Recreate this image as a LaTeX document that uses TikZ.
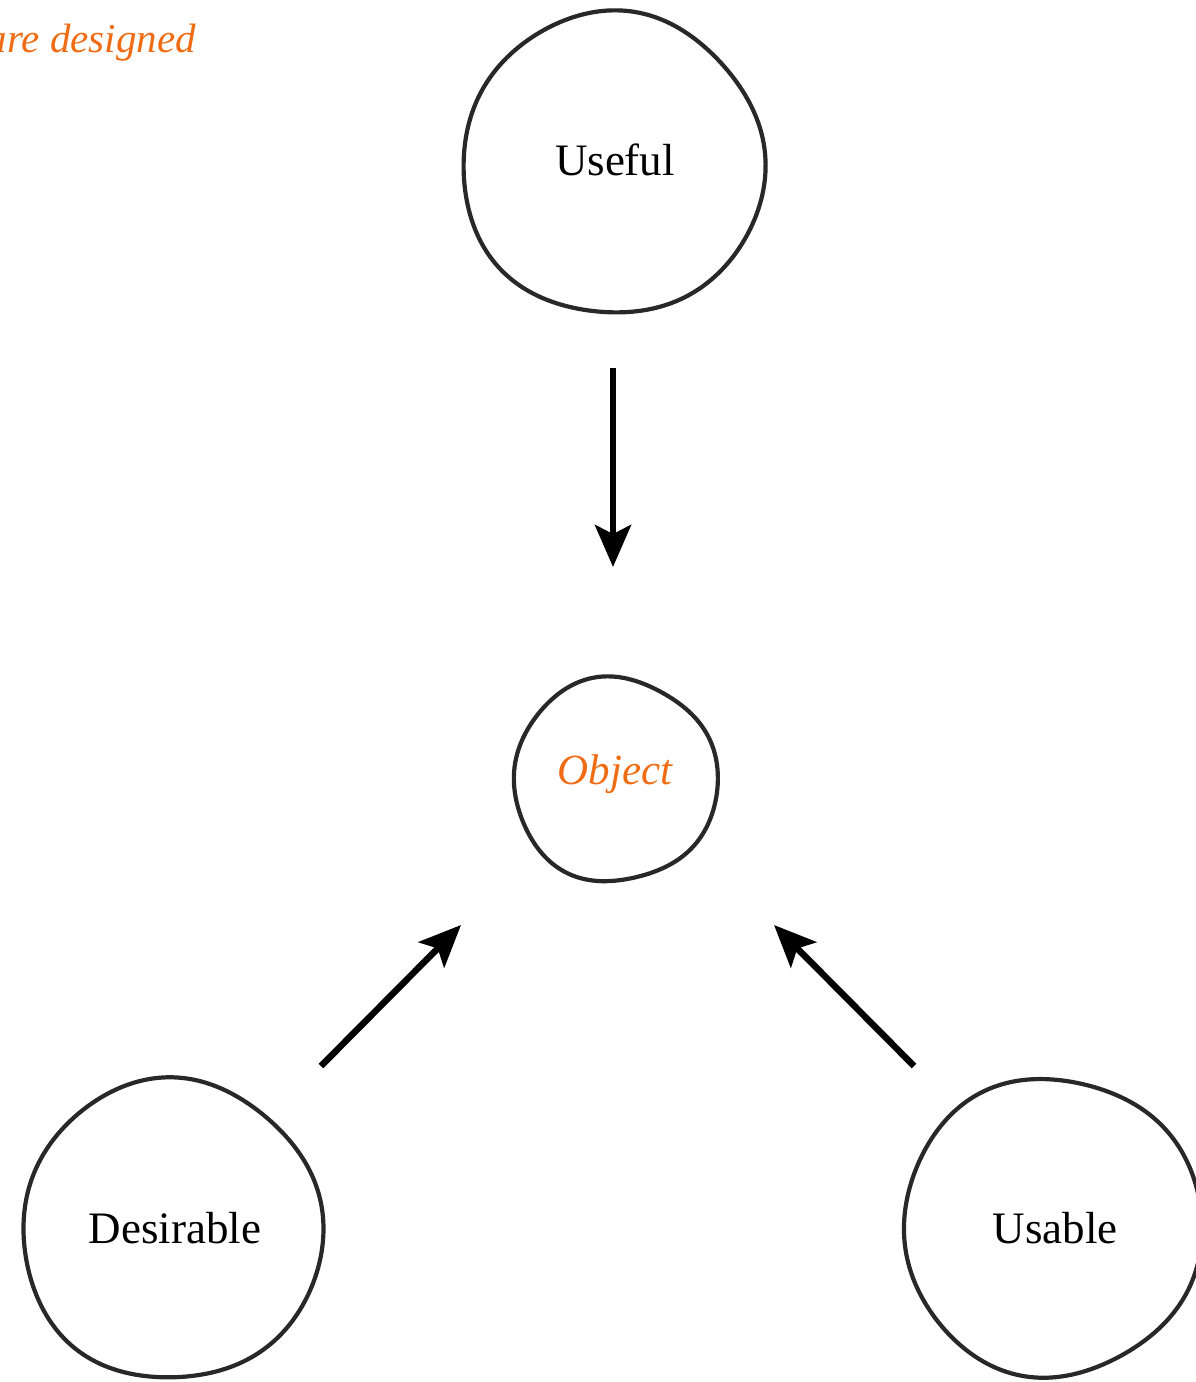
\documentclass[tikz,border=0pt]{standalone}
\usepackage{fontspec}
\setmainfont{Liberation Serif}
\usetikzlibrary{arrows.meta}
\definecolor{accent}{RGB}{240,108,20}
\definecolor{ink}{RGB}{40,40,40}
\tikzset{
  blob/.style={draw=ink, line width=4.2pt, line join=round},
  label/.style={font=\fontsize{45}{50}\selectfont, text=black},
  accentlabel/.style={font=\fontsize{43}{50}\selectfont\itshape, text=accent},
  flow/.style={line width=6.5pt, -{Stealth[length=42pt, width=36pt, inset=9pt]}}
}
% wobbly hand-drawn ring: centre x, centre y, radius, wobble, phase
\newcommand{\wobblering}[5]{%
  \draw[blob] plot[domain=0:360, samples=145, smooth cycle, variable=\t]
    ({#1+(#3+#4*sin(3*\t+#5)+0.6*#4*cos(5*\t+2*#5))*cos(\t)},
     {#2+(#3+#4*sin(3*\t+#5)+0.6*#4*cos(5*\t+2*#5))*sin(\t)});}
\begin{document}
\begin{tikzpicture}[x=1pt, y=-1pt]
\useasboundingbox (0,0) rectangle (1195,1382);

% heading fragment, running in from the left edge
\node[accentlabel, font=\fontsize{41}{48}\selectfont\itshape, anchor=base east, inner sep=0pt] (heading) at (196,52) {are designed};

% hand-drawn outlines
\wobblering{613}{164}{151}{2}{20}
\wobblering{615}{780}{102}{1.8}{70}
\wobblering{172}{1230}{150}{2}{40}
\wobblering{1052}{1227}{149}{2}{110}

% labels
\node[label] (useful) at (615,160) {Useful};
\node[accentlabel] (object) at (615,774) {Object};
\node[label] (desirable) at (175,1228) {Desirable};
\node[label] (usable) at (1055,1228) {Usable};

% arrow end points
\coordinate (usefulOut) at (613,368);
\coordinate (objectTop) at (613,567);
\coordinate (desirableOut) at (321,1066);
\coordinate (objectLeft) at (461,925);
\coordinate (usableOut) at (914,1066);
\coordinate (objectRight) at (774,925);

\draw[flow] (usefulOut) -- (objectTop);
\draw[flow] (desirableOut) -- (objectLeft);
\draw[flow] (usableOut) -- (objectRight);
\end{tikzpicture}
\end{document}
